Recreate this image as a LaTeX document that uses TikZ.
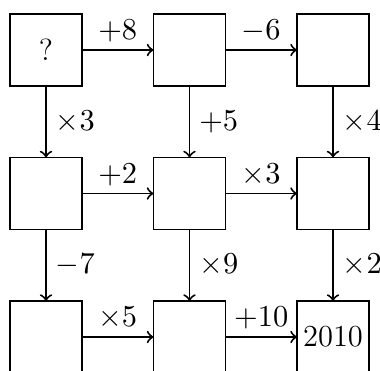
\documentclass[tikz,border=0pt]{standalone}
\begin{document}
\begin{tikzpicture}[x=0.36pt,y=-0.36pt,
  every node/.style={font=\fontsize{11}{13}\selectfont},
  cell/.style={draw,line width=0.7pt,minimum size=25.92pt,inner sep=0pt,outer sep=0pt},
  conn/.style={->,line width=0.7pt},
  lab/.style={inner sep=2.4pt}]
\useasboundingbox (0,0) rectangle (380,371);
\clip (0,0) rectangle (380,371);
\node[cell] (a1) at (46,50) {?};
\node[cell] (a2) at (189.5,50) {};
\node[cell] (a3) at (333,50) {};
\node[cell] (b1) at (46,193.5) {};
\node[cell] (b2) at (189.5,193.5) {};
\node[cell] (b3) at (333,193.5) {};
\node[cell] (c1) at (46,337) {};
\node[cell] (c2) at (189.5,337) {};
\node[cell] (c3) at (333,337) {2010};
\draw[conn] (a1) -- node[lab,above] {$+8$} (a2);
\draw[conn] (a2) -- node[lab,above] {$-6$} (a3);
\draw[conn] (b1) -- node[lab,above] {$+2$} (b2);
\draw[conn] (b2) -- node[lab,above] {$\times 3$} (b3);
\draw[conn] (c1) -- node[lab,above] {$\times 5$} (c2);
\draw[conn] (c2) -- node[lab,above] {$+10$} (c3);
\draw[conn] (a1) -- node[lab,right,inner sep=3.2pt] {$\times 3$} (b1);
\draw[conn] (a2) -- node[lab,right,inner sep=3.2pt] {$+5$} (b2);
\draw[conn] (a3) -- node[lab,right,inner sep=3.2pt] {$\times 4$} (b3);
\draw[conn] (b1) -- node[lab,right,inner sep=3.2pt] {$-7$} (c1);
\draw[conn] (b2) -- node[lab,right,inner sep=3.2pt] {$\times 9$} (c2);
\draw[conn] (b3) -- node[lab,right,inner sep=3.2pt] {$\times 2$} (c3);
\end{tikzpicture}
\end{document}
